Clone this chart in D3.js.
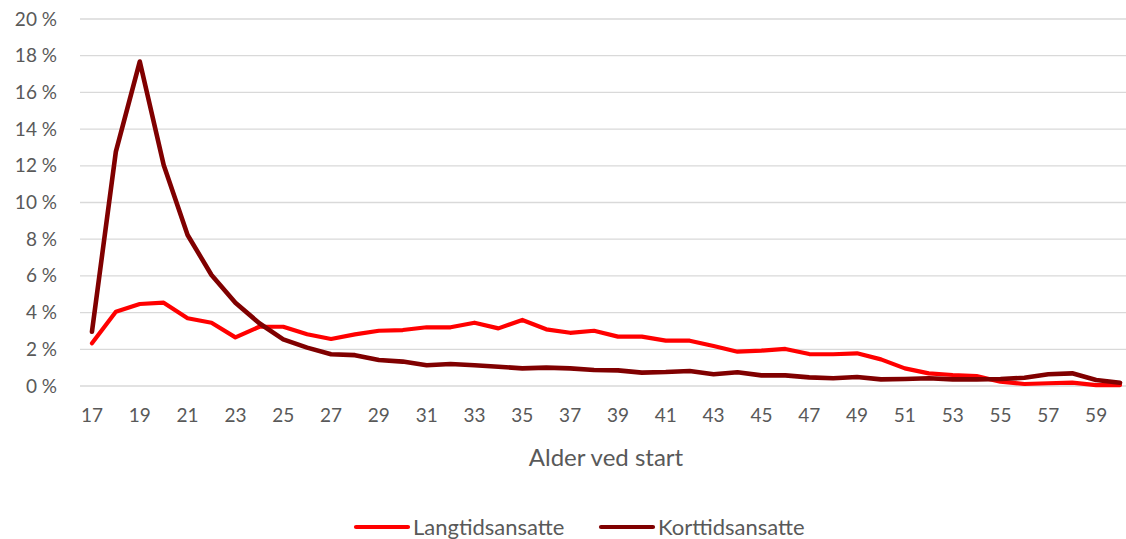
<!DOCTYPE html>
<html>
<head>
<meta charset="utf-8">
<script src="https://cdn.jsdelivr.net/npm/d3@7"></script>
<style>
  body { margin: 0; background: #fff; }
  svg { display: block; font-family: Lato, "Open Sans", sans-serif; }
</style>
</head>
<body>
<div id="chart"></div>
<script>
// Alder ved start, 17 - 60
var ages = d3.range(17, 61);

// andel (%) per alder
var langtid = [2.33, 4.05, 4.47, 4.54, 3.69, 3.45, 2.65, 3.23, 3.23, 2.82,
               2.56, 2.81, 3.01, 3.05, 3.2, 3.2, 3.45, 3.14, 3.6, 3.09,
               2.9, 3.01, 2.69, 2.69, 2.47, 2.47, 2.18, 1.87, 1.93, 2.02,
               1.74, 1.73, 1.78, 1.45, 0.96, 0.69, 0.6, 0.54, 0.23, 0.11,
               0.15, 0.18, 0.05, 0.05];
var korttid = [2.96, 12.77, 17.68, 12.04, 8.23, 6.05, 4.54, 3.42, 2.54, 2.09,
               1.73, 1.68, 1.42, 1.33, 1.13, 1.2, 1.13, 1.05, 0.96, 1.0,
               0.96, 0.87, 0.85, 0.73, 0.76, 0.82, 0.64, 0.75, 0.58, 0.58,
               0.47, 0.42, 0.49, 0.36, 0.38, 0.42, 0.36, 0.36, 0.38, 0.45,
               0.64, 0.69, 0.33, 0.18];
var yTicks = d3.range(0, 21, 2);

var seriesNames = ["Langtidsansatte", "Korttidsansatte"];
var seriesColors = ["#ff0000", "#800000"];

var W = 1126, H = 539;
var margin = {top: 19, left: 80, bottom: 153};
var plotW = 1052, plotH = H - margin.top - margin.bottom;

var svg = d3.select("#chart").append("svg")
    .attr("width", W)
    .attr("height", H);

var x = d3.scaleBand()
    .domain(ages)
    .range([margin.left, margin.left + plotW]);

var y = d3.scaleLinear()
    .domain([0, 20])
    .range([margin.top + plotH, margin.top]);

// gridlines
svg.append("g")
    .selectAll("line")
    .data(yTicks)
    .enter().append("line")
    .attr("x1", margin.left)
    .attr("x2", margin.left + plotW)
    .attr("y1", function(d) { return y(d); })
    .attr("y2", function(d) { return y(d); })
    .attr("stroke", "#d9d9d9")
    .attr("stroke-width", 1.3);

// y labels
var yAxis = d3.axisLeft(y)
    .tickValues(yTicks)
    .tickSize(0)
    .tickPadding(23)
    .tickFormat(function(d) { return d + " %"; });

svg.append("g")
    .attr("transform", "translate(" + margin.left + ",0)")
    .call(yAxis)
    .call(function(g) { g.select(".domain").remove(); })
    .selectAll("text")
    .attr("font-size", 19)
    .attr("font-family", "Lato, 'Open Sans', sans-serif")
    .attr("fill", "#595959");

// x labels
var xAxis = d3.axisBottom(x)
    .tickValues(ages.filter(function(a) { return a % 2 == 1; }))
    .tickSize(0)
    .tickPadding(23);

svg.append("g")
    .attr("transform", "translate(0," + (margin.top + plotH) + ")")
    .call(xAxis)
    .call(function(g) { g.select(".domain").remove(); })
    .selectAll("text")
    .attr("font-size", 19)
    .attr("font-family", "Lato, 'Open Sans', sans-serif")
    .attr("fill", "#595959");

svg.append("text")
    .attr("x", 606)
    .attr("y", 458)
    .attr("dy", "0.35em")
    .attr("text-anchor", "middle")
    .attr("font-size", 24)
    .attr("fill", "#595959")
    .text("Alder ved start");

// lines
var line = d3.line()
    .x(function(d, i) { return x(ages[i]) + x.bandwidth() / 2; })
    .y(function(d) { return y(d); });

[langtid, korttid].forEach(function(s, i) {
    svg.append("path")
        .datum(s)
        .attr("fill", "none")
        .attr("stroke", seriesColors[i])
        .attr("stroke-width", i == 0 ? 4.2 : 4.6)
        .attr("stroke-linejoin", "round")
        .attr("stroke-linecap", "round")
        .attr("d", line);
});

// legend
var legendX = [356, 601];
seriesNames.forEach(function(name, i) {
    var g = svg.append("g")
        .attr("transform", "translate(" + legendX[i] + ",527)");
    g.append("line")
        .attr("x1", 0)
        .attr("x2", 52)
        .attr("stroke", seriesColors[i])
        .attr("stroke-width", 4.2)
        .attr("stroke-linecap", "round");
    g.append("text")
        .attr("x", 57)
        .attr("dy", "0.35em")
        .attr("font-size", 22)
        .attr("fill", "#595959")
        .text(name);
});
</script>
</body>
</html>
